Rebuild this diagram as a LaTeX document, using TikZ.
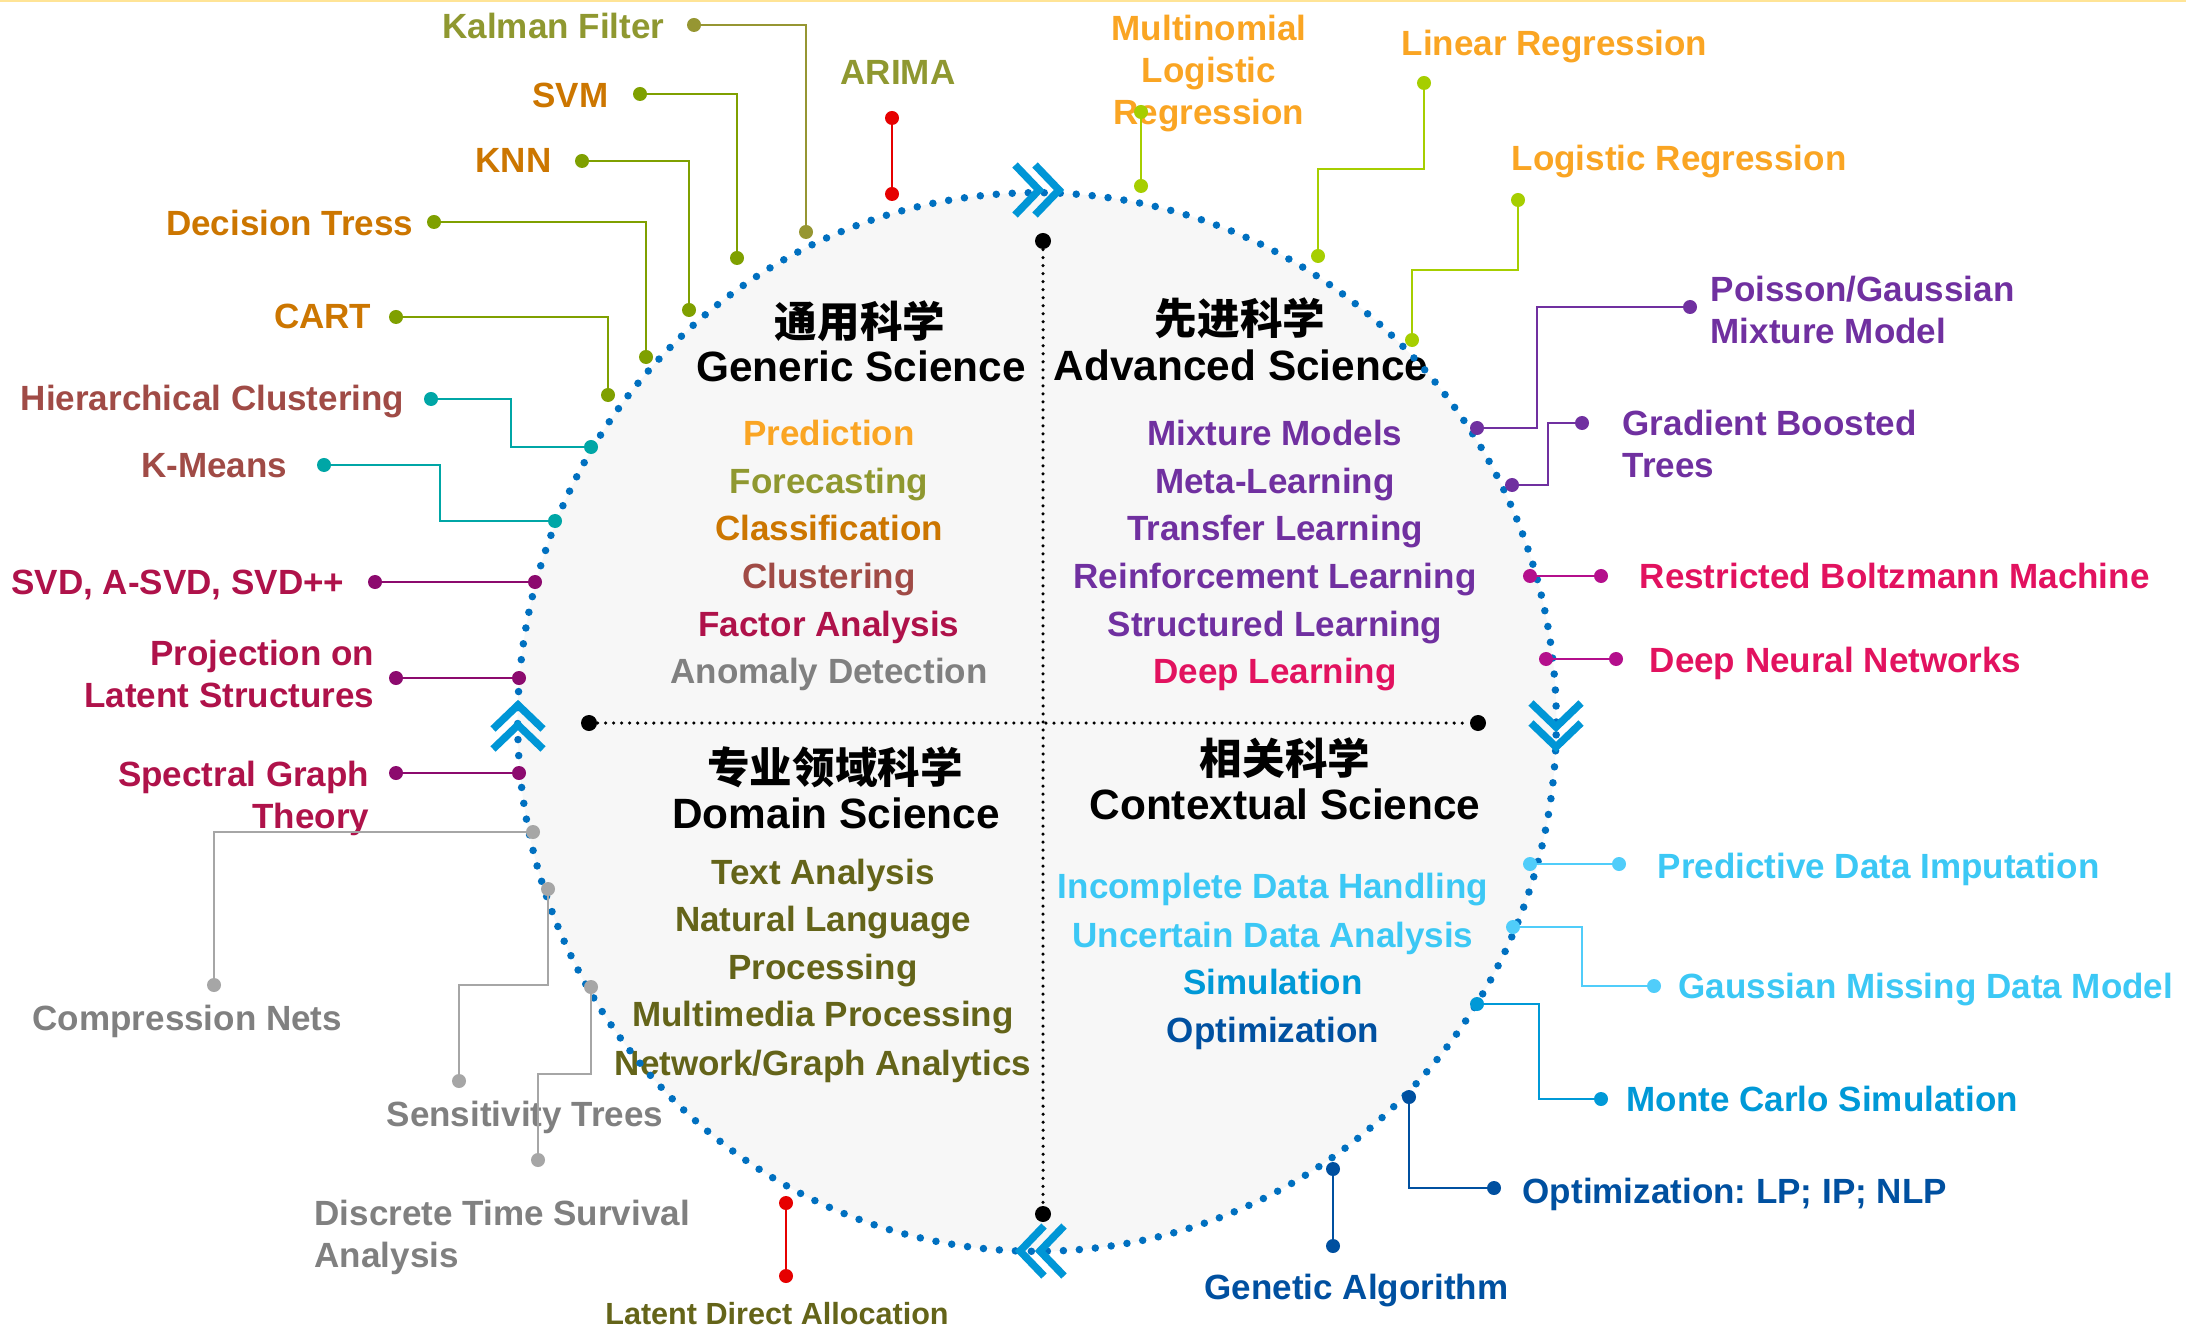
\documentclass[tikz,border=0pt]{standalone}
\usepackage{fontspec}
\setmainfont{Liberation Sans}
\newfontfamily\cjkfam{Noto Sans CJK SC}
\definecolor{olivec}{RGB}{143,152,48}
\definecolor{kalc}{RGB}{150,150,50}
\definecolor{orgd}{RGB}{204,118,0}
\definecolor{orgl}{RGB}{250,165,35}
\definecolor{grnc}{RGB}{127,160,0}
\definecolor{ygrn}{RGB}{166,206,0}
\definecolor{brnc}{RGB}{160,75,70}
\definecolor{tealc}{RGB}{0,166,166}
\definecolor{crim}{RGB}{175,18,74}
\definecolor{plumc}{RGB}{140,10,110}
\definecolor{grayt}{RGB}{128,128,128}
\definecolor{grayl}{RGB}{166,166,166}
\definecolor{redc}{RGB}{230,0,0}
\definecolor{dolive}{RGB}{100,100,25}
\definecolor{purp}{RGB}{112,48,160}
\definecolor{pinkc}{RGB}{226,18,95}
\definecolor{magc}{RGB}{180,15,140}
\definecolor{lblue}{RGB}{60,200,245}
\definecolor{lbline}{RGB}{80,205,250}
\definecolor{mblue}{RGB}{0,153,215}
\definecolor{dblue}{RGB}{0,80,160}
\definecolor{rimc}{RGB}{0,112,192}
\definecolor{chevc}{RGB}{0,150,214}
\definecolor{fillc}{RGB}{247,247,247}
\definecolor{topc}{RGB}{255,228,150}
\newcommand\labfont{\fontsize{9.96pt}{11.95pt}\selectfont\bfseries}
\newcommand\headfont{\fontsize{12.05pt}{14pt}\selectfont\bfseries}
\newcommand\cjkhead{\cjkfam\fontsize{12.1pt}{14pt}\selectfont\bfseries}
\newcommand\ldafont{\fontsize{8.7pt}{10pt}\selectfont\bfseries}
\tikzset{
  olab/.style={font=\labfont, text=#1, inner sep=0pt},
  hd/.style={font=\headfont, text=black, inner sep=0pt, anchor=north},
  chd/.style={font=\cjkhead, text=black, inner sep=0pt, anchor=center},
  initem/.style={font=\labfont, text=#1, inner sep=0pt, anchor=north},
  epdot/.style={circle, fill=#1, inner sep=0pt, minimum size=0.14cm},
  bdot/.style={circle, fill=black, inner sep=0pt, minimum size=0.16cm},
  cn/.style={draw=#1, line width=0.022cm},
  chev/.style={draw=chevc, line width=0.075cm, line join=miter},
  rim/.style={draw=rimc, line width=0.075cm, line cap=round, dash pattern=on 0pt off 0.16cm},
  crossln/.style={draw=black, line width=0.035cm, line cap=round, dash pattern=on 0pt off 0.08cm},
}
\begin{document}
\frenchspacing
\begin{tikzpicture}[x=0.01cm, y=-0.01cm]
\useasboundingbox (0,0) rectangle (2186,1328);
\fill[white] (0,0) rectangle (2186,1328);
\draw[draw=topc, line width=0.03cm] (0,1) -- (2186,1);

% ellipse body
\coordinate (O) at (1037,722);
\fill[fillc] (O) ellipse [x radius=5.19cm, y radius=5.29cm];

% cross
\node[bdot] (ct) at (1043,241) {};
\node[bdot] (cb) at (1043,1214) {};
\node[bdot] (cl) at (589,723) {};
\node[bdot] (cr) at (1478,723) {};
\draw[crossln] (ct) -- (cb);
\draw[crossln] (cl) -- (cr);

% quadrant headings
\node[chd] (hTL) at (860,321) {通用科学};
\node[hd] (eTL) at (861,350) {Generic Science};
\node[chd] (hTR) at (1240,318) {先进科学};
\node[hd] (eTR) at (1241,349) {Advanced Science};
\node[chd] (hBL) at (835,767) {专业领域科学};
\node[hd] (eBL) at (836,797) {Domain Science};
\node[chd] (hBR) at (1285,758) {相关科学};
\node[hd] (eBR) at (1285,788) {Contextual Science};

% inner items
\node[initem=orgl] (i1) at (829,419) {Prediction};
\node[initem=olivec] (i2) at (829,467) {Forecasting};
\node[initem=orgd] (i3) at (829,514) {Classification};
\node[initem=brnc] (i4) at (829,562) {Clustering};
\node[initem=crim] (i5) at (829,610) {Factor Analysis};
\node[initem=grayt] (i6) at (829,657) {Anomaly Detection};

\node[initem=purp] (j1) at (1275,419) {Mixture Models};
\node[initem=purp] (j2) at (1275,467) {Meta-Learning};
\node[initem=purp] (j3) at (1275,514) {Transfer Learning};
\node[initem=purp] (j4) at (1275,562) {Reinforcement Learning};
\node[initem=purp] (j5) at (1275,610) {Structured Learning};
\node[initem=pinkc] (j6) at (1275,657) {Deep Learning};

\node[initem=dolive] (k1) at (823,858) {Text Analysis};
\node[initem=dolive] (k2) at (823,905) {Natural Language};
\node[initem=dolive] (k3) at (823,953) {Processing};
\node[initem=dolive] (k4) at (823,1000) {Multimedia Processing};
\node[initem=dolive] (k5) at (823,1049) {Network/Graph Analytics};

\node[initem=lblue] (m1) at (1273,872) {Incomplete Data Handling};
\node[initem=lblue] (m2) at (1273,921) {Uncertain Data Analysis};
\node[initem=mblue] (m3) at (1273,968) {Simulation};
\node[initem=dblue] (m4) at (1273,1016) {Optimization};

% rim and chevrons
\draw[rim] (O) ellipse [x radius=5.19cm, y radius=5.29cm];
\begin{scope}[shift={(1037,190)}]
  \draw[chev] (-22,-25) -- (2,0) -- (-22,25);
  \draw[chev] (-2,-25) -- (22,0) -- (-2,25);
\end{scope}
\begin{scope}[shift={(1556,725)}, rotate=-90]
  \draw[chev] (-22,-25) -- (2,0) -- (-22,25);
  \draw[chev] (-2,-25) -- (22,0) -- (-2,25);
\end{scope}
\begin{scope}[shift={(1042,1251)}, rotate=180]
  \draw[chev] (-22,-25) -- (2,0) -- (-22,25);
  \draw[chev] (-2,-25) -- (22,0) -- (-2,25);
\end{scope}
\begin{scope}[shift={(518,727)}, rotate=90]
  \draw[chev] (-22,-25) -- (2,0) -- (-22,25);
  \draw[chev] (-2,-25) -- (22,0) -- (-2,25);
\end{scope}

% ---------- left labels ----------
\node[olab=olivec, anchor=north east] (tKF) at (665,12) {Kalman Filter};
\node[olab=orgd, anchor=north east] (tSVM) at (609,82) {SVM};
\node[olab=orgd, anchor=north east] (tKNN) at (552,148) {KNN};
\node[olab=orgd, anchor=north east] (tDT) at (414,209) {Decision Tress};
\node[olab=orgd, anchor=north east] (tCART) at (372,303) {CART};
\node[olab=brnc, anchor=north east] (tHC) at (405,384) {Hierarchical Clustering};
\node[olab=brnc, anchor=north east] (tKM) at (288,453) {K-Means};
\node[olab=crim, anchor=north east] (tSVD) at (345,569) {SVD, A-SVD, SVD++};
\node[olab=crim, anchor=north east, align=right] (tPLS) at (375,639) {Projection on\\Latent Structures};
\node[olab=crim, anchor=north east, align=right] (tSG) at (370,760) {Spectral Graph\\Theory};
\node[olab=grayt, anchor=north west] (tCN) at (32,1004) {Compression Nets};
\node[olab=grayt, anchor=north west] (tST) at (386,1100) {Sensitivity Trees};
\node[olab=grayt, anchor=north west, align=left] (tDTS) at (314,1199) {Discrete Time Survival\\Analysis};
\node[olab=olivec, anchor=north] (tAR) at (898,60) {ARIMA};
\node[font=\ldafont, text=dolive, inner sep=0pt, anchor=north] (tLDA) at (777,1302) {Latent Direct Allocation};

% ---------- right labels ----------
\node[olab=orgl, anchor=north, align=center] (tMLR) at (1209,14) {Multinomial\\Logistic\\Regression};
\node[olab=orgl, anchor=north west] (tLR) at (1401,29) {Linear Regression};
\node[olab=orgl, anchor=north west] (tLgR) at (1511,144) {Logistic Regression};
\node[olab=purp, anchor=north west, align=left] (tPG) at (1710,275) {Poisson/Gaussian\\Mixture Model};
\node[olab=purp, anchor=north west, align=left] (tGB) at (1622,409) {Gradient Boosted\\Trees};
\node[olab=pinkc, anchor=north west] (tRBM) at (1639,562) {Restricted Boltzmann Machine};
\node[olab=pinkc, anchor=north west] (tDNN) at (1649,646) {Deep Neural Networks};
\node[olab=lblue, anchor=north west] (tPDI) at (1657,852) {Predictive Data Imputation};
\node[olab=lblue, anchor=north west] (tGMD) at (1678,972) {Gaussian Missing Data Model};
\node[olab=mblue, anchor=north west] (tMC) at (1626,1085) {Monte Carlo Simulation};
\node[olab=dblue, anchor=north west] (tOPT) at (1522,1177) {Optimization: LP; IP; NLP};
\node[olab=dblue, anchor=north west] (tGA) at (1204,1273) {Genetic Algorithm};

% ---------- connectors, left ----------
\node[epdot=kalc] (kfA) at (694,25) {};
\node[epdot=kalc] (kfB) at (806,232) {};
\draw[cn=kalc] (kfA.center) -| (kfB.center);

\node[epdot=grnc] (svA) at (640,94) {};
\node[epdot=grnc] (svB) at (737,258) {};
\draw[cn=grnc] (svA.center) -| (svB.center);

\node[epdot=grnc] (knA) at (582,161) {};
\node[epdot=grnc] (knB) at (689,310) {};
\draw[cn=grnc] (knA.center) -| (knB.center);

\node[epdot=grnc] (dtA) at (434,222) {};
\node[epdot=grnc] (dtB) at (646,357) {};
\draw[cn=grnc] (dtA.center) -| (dtB.center);

\node[epdot=grnc] (caA) at (396,317) {};
\node[epdot=grnc] (caB) at (608,395) {};
\draw[cn=grnc] (caA.center) -| (caB.center);

\node[epdot=tealc] (hcA) at (431,399) {};
\node[epdot=tealc] (hcB) at (591,447) {};
\draw[cn=tealc] (hcA.center) -- (511,399) -- (511,447) -- (hcB.center);

\node[epdot=tealc] (kmA) at (324,465) {};
\node[epdot=tealc] (kmB) at (555,521) {};
\draw[cn=tealc] (kmA.center) -- (440,465) -- (440,521) -- (kmB.center);

\node[epdot=plumc] (sdA) at (375,582) {};
\node[epdot=plumc] (sdB) at (535,582) {};
\draw[cn=plumc] (sdA.center) -- (sdB.center);

\node[epdot=plumc] (plA) at (396,678) {};
\node[epdot=plumc] (plB) at (519,678) {};
\draw[cn=plumc] (plA.center) -- (plB.center);

\node[epdot=plumc] (sgA) at (396,773) {};
\node[epdot=plumc] (sgB) at (519,773) {};
\draw[cn=plumc] (sgA.center) -- (sgB.center);

\node[epdot=grayl] (cnA) at (533,832) {};
\node[epdot=grayl] (cnB) at (214,985) {};
\draw[cn=grayl] (cnA.center) -| (cnB.center);

\node[epdot=grayl] (stA) at (548,889) {};
\node[epdot=grayl] (stB) at (459,1081) {};
\draw[cn=grayl] (stA.center) -- (548,985) -- (459,985) -- (stB.center);

\node[epdot=grayl] (dsA) at (591,987) {};
\node[epdot=grayl] (dsB) at (538,1160) {};
\draw[cn=grayl] (dsA.center) -- (591,1074) -- (538,1074) -- (dsB.center);

\node[epdot=redc] (arA) at (892,118) {};
\node[epdot=redc] (arB) at (892,194) {};
\draw[cn=redc] (arA.center) -- (arB.center);

\node[epdot=redc] (ldA) at (786,1203) {};
\node[epdot=redc] (ldB) at (786,1276) {};
\draw[cn=redc] (ldA.center) -- (ldB.center);

% ---------- connectors, right ----------
\node[epdot=ygrn] (mlA) at (1141,112) {};
\node[epdot=ygrn] (mlB) at (1141,186) {};
\draw[cn=ygrn] (mlA.center) -- (mlB.center);

\node[epdot=ygrn] (lrA) at (1424,83) {};
\node[epdot=ygrn] (lrB) at (1318,256) {};
\draw[cn=ygrn] (lrA.center) -- (1424,169) -- (1318,169) -- (lrB.center);

\node[epdot=ygrn] (lgA) at (1518,200) {};
\node[epdot=ygrn] (lgB) at (1412,340) {};
\draw[cn=ygrn] (lgA.center) -- (1518,270) -- (1412,270) -- (lgB.center);

\node[epdot=purp] (pgA) at (1690,307) {};
\node[epdot=purp] (pgB) at (1477,428) {};
\draw[cn=purp] (pgA.center) -- (1537,307) -- (1537,428) -- (pgB.center);

\node[epdot=purp] (gbA) at (1582,423) {};
\node[epdot=purp] (gbB) at (1512,485) {};
\draw[cn=purp] (gbA.center) -- (1548,423) -- (1548,485) -- (gbB.center);

\node[epdot=magc] (rbA) at (1601,576) {};
\node[epdot=magc] (rbB) at (1530,576) {};
\draw[cn=magc] (rbA.center) -- (rbB.center);

\node[epdot=magc] (dnA) at (1616,659) {};
\node[epdot=magc] (dnB) at (1546,659) {};
\draw[cn=magc] (dnA.center) -- (dnB.center);

\node[epdot=lbline] (pdA) at (1619,864) {};
\node[epdot=lbline] (pdB) at (1530,864) {};
\draw[cn=lbline] (pdA.center) -- (pdB.center);

\node[epdot=lbline] (gmA) at (1654,986) {};
\node[epdot=lbline] (gmB) at (1513,927) {};
\draw[cn=lbline] (gmA.center) -- (1582,986) -- (1582,927) -- (gmB.center);

\node[epdot=mblue] (mcA) at (1601,1099) {};
\node[epdot=mblue] (mcB) at (1477,1004) {};
\draw[cn=mblue] (mcA.center) -- (1539,1099) -- (1539,1004) -- (mcB.center);

\node[epdot=dblue] (opA) at (1494,1188) {};
\node[epdot=dblue] (opB) at (1409,1097) {};
\draw[cn=dblue] (opA.center) -| (opB.center);

\node[epdot=dblue] (gaA) at (1333,1246) {};
\node[epdot=dblue] (gaB) at (1333,1169) {};
\draw[cn=dblue] (gaA.center) -- (gaB.center);
\end{tikzpicture}
\end{document}
